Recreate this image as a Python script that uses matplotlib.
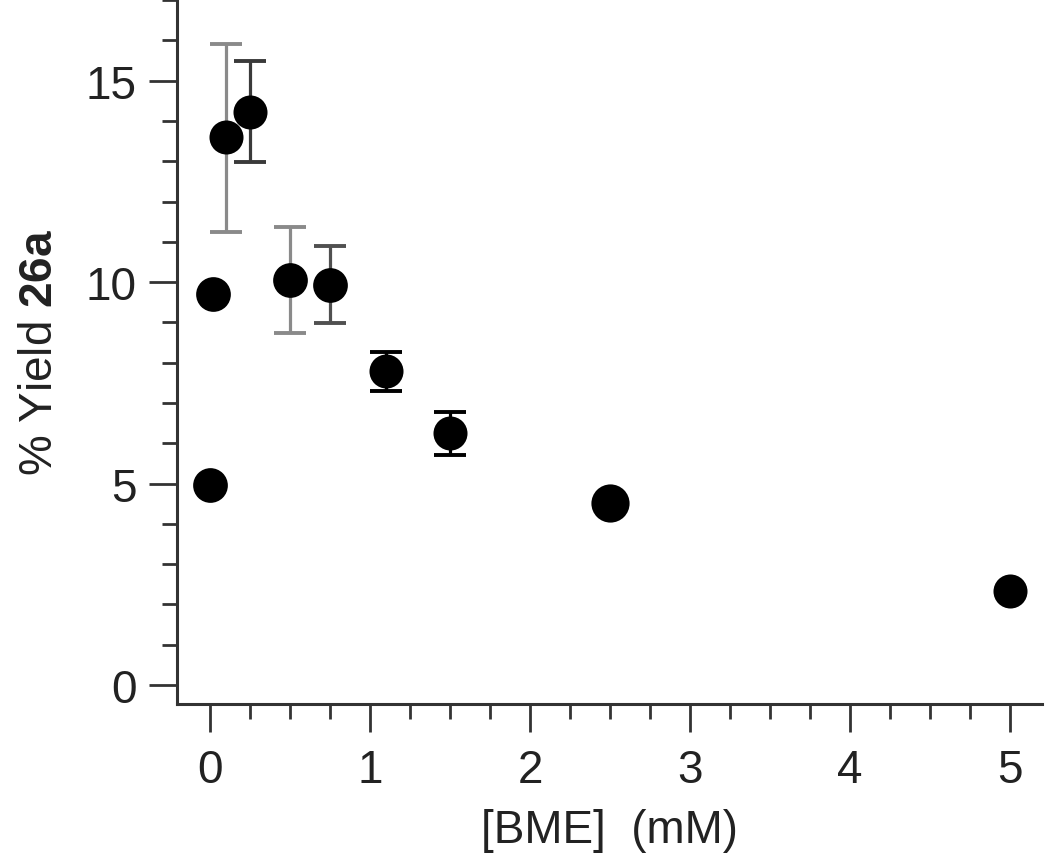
import matplotlib
matplotlib.use("Agg")
import matplotlib.pyplot as plt
from matplotlib.ticker import MultipleLocator

# [BME] (mM) vs % yield of 26a
bme = [0.0, 0.02, 0.1, 0.25, 0.5, 0.75, 1.1, 1.5, 2.5, 5.0]
yield_26a = [4.97, 9.7, 13.6, 14.23, 10.05, 9.93, 7.8, 6.25, 4.52, 2.33]
err_low = [0.0, 0.0, 2.35, 1.24, 1.3, 0.95, 0.5, 0.55, 0.0, 0.0]
err_high = [0.0, 0.0, 2.32, 1.27, 1.32, 0.97, 0.48, 0.54, 0.0, 0.0]

# styling per point (bar grey level, marker size in pt)
bar_colors = ['k', 'k', '#8a8a8a', '#3a3a3a', '#8a8a8a', '#505050', 'k', 'k', 'k', 'k']
marker_pt = [25, 25, 24.5, 24.5, 25, 25, 24.5, 24.5, 27.5, 24.5]

plt.rcParams['font.family'] = ['Liberation Sans', 'DejaVu Sans']
plt.rcParams['mathtext.fontset'] = 'custom'
plt.rcParams['mathtext.rm'] = 'Liberation Sans'
plt.rcParams['mathtext.bf'] = 'Liberation Sans:bold'

fig = plt.figure(figsize=(10.5, 8.62), dpi=100)
ax = fig.add_axes([177/1050, 1 - 705/862, (1042-177)/1050, 705/862])

for x, y, lo, hi, c in zip(bme, yield_26a, err_low, err_high, bar_colors):
    if lo > 0 or hi > 0:
        ax.errorbar([x], [y], yerr=[[lo], [hi]], fmt='none', ecolor=c,
                    elinewidth=2.3, capsize=11.5, capthick=2.8, zorder=2)

for x, y, m in zip(bme, yield_26a, marker_pt):
    ax.plot([x], [y], 'o', color='black', markersize=m,
            markeredgewidth=0, zorder=3)

ax.set_xlim(-0.206, 5.2)
ax.set_ylim(-0.47, 17.03)

ax.xaxis.set_major_locator(MultipleLocator(1))
ax.xaxis.set_minor_locator(MultipleLocator(0.25))
ax.yaxis.set_major_locator(MultipleLocator(5))
ax.yaxis.set_minor_locator(MultipleLocator(1))

for side in ['top', 'right']:
    ax.spines[side].set_visible(False)
for side in ['left', 'bottom']:
    ax.spines[side].set_linewidth(2.2)
    ax.spines[side].set_color('#333333')

ax.tick_params(which='major', length=20, width=2, color='#333333',
               labelsize=33, labelcolor='#222222')
ax.tick_params(which='minor', length=10.5, width=2, color='#333333')
ax.tick_params(axis='x', which='major', pad=12)
ax.tick_params(axis='y', which='major', pad=9)

ax.set_xlabel('[BME]  (mM)', fontsize=33, color='#222222', labelpad=11)
ax.set_ylabel(r'% Yield $\mathbf{26a}$', fontsize=33, color='#222222',
              labelpad=17)

fig.savefig('out.png', dpi=100)
